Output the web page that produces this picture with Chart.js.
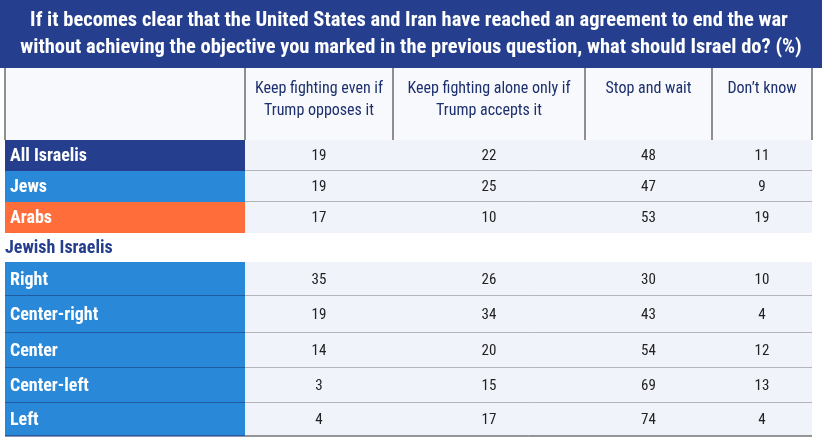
<!DOCTYPE html>
<html><head><meta charset="utf-8">
<script src="https://cdn.jsdelivr.net/npm/chart.js@4"></script>
<style>html,body{margin:0;padding:0;background:#fff}#c{display:block}</style>
</head><body>
<div style="width:822px;height:439px"><canvas id="c"></canvas></div>
<script>
const titleLines = ['If it becomes clear that the United States and Iran have reached an agreement to end the war',
  'without achieving the objective you marked in the previous question, what should Israel do? (%)'];
const columns = [['Keep fighting even if', 'Trump opposes it'], ['Keep fighting alone only if', 'Trump accepts it'], ['Stop and wait'], ['Don\u2019t know']];
const rows = ['All Israelis', 'Jews', 'Arabs', 'Jewish Israelis', 'Right', 'Center-right', 'Center', 'Center-left', 'Left'];
const keepEvenIf = [19, 19, 17, null, 35, 19, 14, 3, 4];
const keepIfAccepts = [22, 25, 10, null, 26, 34, 20, 15, 17];
const stopWait = [48, 47, 53, null, 30, 43, 54, 69, 74];
const dontKnow = [11, 9, 19, null, 10, 4, 12, 13, 4];

// layout (pixel units of the scales)
const colEdges = [5, 245, 393, 585, 712, 812];
const rowEdges = [140, 171, 202, 233, 262, 296, 333, 368, 403, 436];
const rowColors = ['#253f8e', '#2a88d8', '#ff6e3a', '#ffffff', '#2a88d8', '#2a88d8', '#2a88d8', '#2a88d8', '#2a88d8'];
const FONT = '"Liberation Sans Narrow", "Roboto Condensed", "Noto Sans", sans-serif';

const tablePlugin = {
  id: 'table',
  afterDraw(chart) {
    const ctx = chart.ctx, xs = chart.scales.x, ys = chart.scales.y;
    const X = v => xs.getPixelForValue(v), Y = v => ys.getPixelForValue(v);
    const series = [keepEvenIf, keepIfAccepts, stopWait, dontKnow];
    ctx.save();
    // title
    ctx.fillStyle = '#253f8e';
    ctx.fillRect(X(0), Y(0), X(822) - X(0), Y(68) - Y(0));
    ctx.fillStyle = '#fff';
    ctx.font = 'bold 20.5px ' + FONT;
    ctx.textAlign = 'center'; ctx.textBaseline = 'middle';
    ctx.fillText(titleLines[0], X(409), Y(21));
    ctx.fillText(titleLines[1], X(411), Y(48));
    // header
    ctx.fillStyle = '#f8f9fc';
    ctx.fillRect(X(colEdges[0]), Y(68), X(colEdges[5]) - X(colEdges[0]), Y(140) - Y(68));
    ctx.fillStyle = '#1c2f6e';
    ctx.font = '16px ' + FONT;
    columns.forEach((c, i) => {
      const cx = (X(colEdges[i + 1]) + X(colEdges[i + 2])) / 2;
      c.forEach((t, j) => ctx.fillText(t, cx, Y(89 + j * 22)));
    });
    ctx.strokeStyle = '#555'; ctx.lineWidth = 1.3;
    colEdges.forEach(e => { ctx.beginPath(); ctx.moveTo(X(e), Y(68)); ctx.lineTo(X(e), Y(140)); ctx.stroke(); });
    // rows
    rows.forEach((r, i) => {
      const y0 = Y(rowEdges[i]), y1 = Y(rowEdges[i + 1]), cy = (y0 + y1) / 2 + 1;
      ctx.fillStyle = rowColors[i];
      ctx.fillRect(X(colEdges[0]), y0, X(colEdges[1]) - X(colEdges[0]), y1 - y0);
      ctx.fillStyle = i === 3 ? '#ffffff' : '#f0f3fa';
      ctx.fillRect(X(colEdges[1]), y0, X(colEdges[5]) - X(colEdges[1]), y1 - y0);
      ctx.textAlign = 'left';
      ctx.font = 'bold 18px ' + FONT;
      ctx.fillStyle = i === 3 ? '#253f8e' : '#fff';
      ctx.fillText(r, X(colEdges[0]) + (i === 3 ? 0 : 5), cy);
      ctx.textAlign = 'center';
      ctx.font = '15px ' + FONT;
      ctx.fillStyle = '#222';
      series.forEach((s, k) => {
        if (s[i] == null) return;
        ctx.fillText(String(s[i]), (X(colEdges[k + 1]) + X(colEdges[k + 2])) / 2, cy);
      });
      if (i !== 2 && i !== 3) {
        ctx.strokeStyle = i === 8 ? '#333' : '#777'; ctx.lineWidth = 1;
        ctx.beginPath(); ctx.moveTo(X(colEdges[1]), y1); ctx.lineTo(X(colEdges[5]), y1); ctx.stroke();
        if (i >= 4) { ctx.strokeStyle = '#1c2f6e'; ctx.beginPath(); ctx.moveTo(X(colEdges[0]), y1); ctx.lineTo(X(colEdges[1]), y1); ctx.stroke(); }
      }
    });
    ctx.restore();
  }
};

new Chart(document.getElementById('c'), {
  type: 'scatter',
  data: { datasets: [] },
  options: {
    responsive: true, maintainAspectRatio: false, animation: false,
    layout: { padding: 0 },
    plugins: { legend: { display: false }, tooltip: { enabled: false } },
    scales: {
      x: { type: 'linear', min: 0, max: 822, display: false },
      y: { type: 'linear', min: 0, max: 439, reverse: true, display: false }
    }
  },
  plugins: [tablePlugin]
});
</script>
</body></html>
